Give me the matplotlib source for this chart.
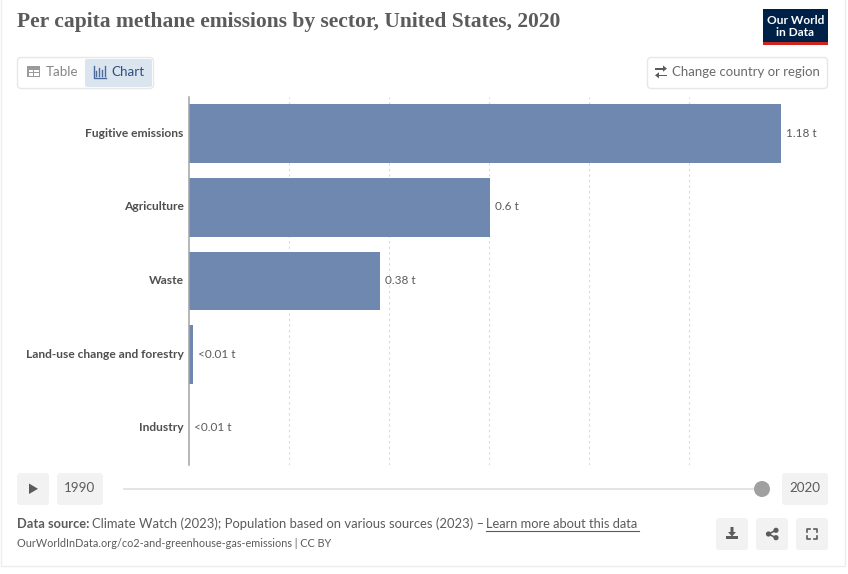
import matplotlib
matplotlib.use('Agg')
import matplotlib.pyplot as plt
from matplotlib.patches import FancyBboxPatch, Rectangle, Circle, Polygon
from matplotlib.transforms import ScaledTranslation

plt.rcParams['font.family'] = ['Lato', 'DejaVu Sans']

W, H = 848, 574

# data
sectors = ['Fugitive emissions', 'Agriculture', 'Waste', 'Land-use change and forestry', 'Industry']
values = [1.184, 0.603, 0.383, 0.009, 0.0003]
value_labels = ['1.18 t', '0.6 t', '0.38 t', '<0.01 t', '<0.01 t']
grid_ticks = [0.2, 0.4, 0.6, 0.8, 1.0]

GREY = '#5b5b5b'
BTN = '#f2f2f2'
BORDER = '#e7e7e7'


def axes_px(fig, x0, y0, x1, y1, **kw):
    return fig.add_axes([x0 / W, 1 - y1 / H, (x1 - x0) / W, (y1 - y0) / H], **kw)


def box(ax, x0, y0, x1, y1, fc='white', ec='none', r=3, lw=1):
    ax.add_patch(FancyBboxPatch((x0 + r, y0 + r), x1 - x0 - 2 * r, y1 - y0 - 2 * r,
                                boxstyle='round,pad=%g,rounding_size=%g' % (r, r),
                                fc=fc, ec=ec, lw=lw))


fig = plt.figure(figsize=(W / 100, H / 100), dpi=100, facecolor='white')

# chart
ax = axes_px(fig, 188.5, 97, 781, 465)
ax.barh(range(len(sectors)), values, height=0.8, color='#6f88b0', zorder=2)
ax.set_xlim(0, 1.184)
ax.set_ylim(4.5, -0.5)
ax.set_xticks(grid_ticks)
ax.set_yticks(range(len(sectors)))
ax.set_yticklabels(sectors, fontsize=8.65, fontweight='bold', color='#4f4f4f')
ax.tick_params(axis='y', length=0, pad=3.5)
ax.tick_params(axis='x', length=0, labelbottom=False)
ax.grid(axis='x', color='#d8d8d8', lw=0.8, ls=(0, (2, 3)), zorder=1)
up = ScaledTranslation(0, 1.5 / 100, fig.dpi_scale_trans)
for lab in ax.get_yticklabels():
    lab.set_transform(lab.get_transform() + up)
for s in ['top', 'right', 'bottom']:
    ax.spines[s].set_visible(False)
ax.spines['left'].set_color('#a3a3a3')
ax.spines['left'].set_linewidth(1.1)
ax.spines['left'].set_zorder(3)
ax.patch.set_alpha(0)
for i, (v, lab) in enumerate(zip(values, value_labels)):
    ax.annotate(lab, (v, i), xytext=(3.6, 0.3), textcoords='offset points', va='center',
                fontsize=8.5, color='#5b5b5b', annotation_clip=False)

# page furniture, in pixels
ui = axes_px(fig, 0, 0, W, H, zorder=-1)
ui.set_xlim(0, W)
ui.set_ylim(H, 0)
ui.axis('off')
ui.add_patch(Rectangle((1, -5), 843.5, 571, fc='white', ec='#ededed', lw=1))

top = axes_px(fig, 0, 0, W, H, zorder=5)
top.set_xlim(0, W)
top.set_ylim(H, 0)
top.axis('off')
top.patch.set_alpha(0)

top.text(17, 22, 'Per capita methane emissions by sector, United States, 2020',
         fontsize=15.5, family=['Liberation Serif', 'DejaVu Serif'], fontweight='bold',
         color='#5b5b5b', va='center')

# logo
top.add_patch(Rectangle((763, 9), 65, 36, fc='#002147', ec='none'))
top.add_patch(Rectangle((763, 42), 65, 3, fc='#ce261e', ec='none'))
top.text(795.5, 20, 'Our World', color='white', fontsize=8.6, fontweight='bold', ha='center', va='center')
top.text(795.5, 32, 'in Data', color='white', fontsize=8.6, fontweight='bold', ha='center', va='center')

# table / chart tabs
box(top, 17.5, 57.5, 153.5, 88.5, ec=BORDER, r=4)
box(top, 85, 59, 152, 87, fc='#dbe5f0', r=2)
top.add_patch(Rectangle((27, 66), 13, 11, fc='#9a9a9a', ec='none'))
for xy, w, h in [((28.5, 69.5), 4.3, 2.6), ((34.2, 69.5), 4.3, 2.6), ((28.5, 73), 4.3, 2.6), ((34.2, 73), 4.3, 2.6)]:
    top.add_patch(Rectangle(xy, w, h, fc='white', ec='none'))
top.text(46, 71.5, 'Table', fontsize=9.6, color='#858585', va='center')
top.plot([93.5, 93.5, 106], [65.5, 77.5, 77.5], color='#4c6a9c', lw=1)
for x, y in [(96, 71), (99, 68), (102, 70), (105, 66)]:
    top.plot([x, x], [y, 75.5], color='#4c6a9c', lw=1)
top.text(111.5, 71.5, 'Chart', fontsize=9.6, color='#2f4e7c', va='center')

# change country
box(top, 647.5, 57.5, 827.5, 88.5, ec=BORDER, r=4)
top.add_patch(Rectangle((655, 67.8), 8, 1.7, fc=GREY, ec='none'))
top.add_patch(Polygon([[663, 65.5], [667, 68.6], [663, 71.7]], fc=GREY, ec='none'))
top.add_patch(Rectangle((659, 74.5), 8, 1.7, fc=GREY, ec='none'))
top.add_patch(Polygon([[659, 72.2], [655, 75.3], [659, 78.4]], fc=GREY, ec='none'))
top.text(672, 71.5, 'Change country or region', fontsize=9.5, color='#6b6b6b', va='center')

# timeline
box(top, 17, 473, 49, 505, fc=BTN)
top.add_patch(Polygon([[29, 483.5], [29, 494], [38, 488.8]], fc=GREY, ec='none'))
box(top, 57, 473, 103, 505, fc=BTN)
top.text(80, 487.5, '1990', fontsize=9.6, color=GREY, ha='center', va='center')
top.add_patch(Rectangle((123, 488), 632, 2, fc='#e4e4e4', ec='none'))
top.add_patch(Circle((762, 489), 8, fc='#a0a0a0', ec='none'))
box(top, 782, 473, 828, 505, fc=BTN)
top.text(805, 487.5, '2020', fontsize=9.6, color=GREY, ha='center', va='center')

# footer
top.text(17, 523.5, 'Data source:', fontsize=9.25, fontweight='bold', color=GREY, va='center')
top.text(92, 523.5, 'Climate Watch (2023); Population based on various sources (2023) \u2013', fontsize=9.4, color=GREY, va='center')
top.text(486, 523.5, 'Learn more about this data', fontsize=9.3, color=GREY, va='center')
top.plot([486, 638.5], [530.5, 530.5], color=GREY, lw=0.8)
top.text(17, 543.5, 'OurWorldInData.org/co2-and-greenhouse-gas-emissions | CC BY', fontsize=7.8, color=GREY, va='center')

# action buttons
for x0 in [716, 756, 796]:
    box(top, x0, 518, x0 + 32, 550, fc=BTN)
top.add_patch(Polygon([[730.5, 527], [733.5, 527], [733.5, 532], [736, 532], [732, 536.5], [728, 532], [730.5, 532]], fc=GREY, ec='none'))
top.add_patch(Rectangle((726, 535.5), 12, 3.5, fc=GREY, ec='none'))
top.plot([776.5, 768.5, 776.5], [530, 534, 538], color=GREY, lw=1.2)
for x, y, r in [(768.5, 534, 2.6), (776, 530.3, 2.6), (776, 537.7, 2.6)]:
    top.add_patch(Circle((x, y), r, fc=GREY, ec='none'))
for sx, sy in [(-1, -1), (1, -1), (-1, 1), (1, 1)]:
    cx, cy = 812, 534
    top.plot([cx + sx * 5, cx + sx * 5, cx + sx * 2], [cy + sy * 2, cy + sy * 5, cy + sy * 5], color=GREY, lw=1.2)

fig.savefig('out.png', dpi=100, facecolor='white')
